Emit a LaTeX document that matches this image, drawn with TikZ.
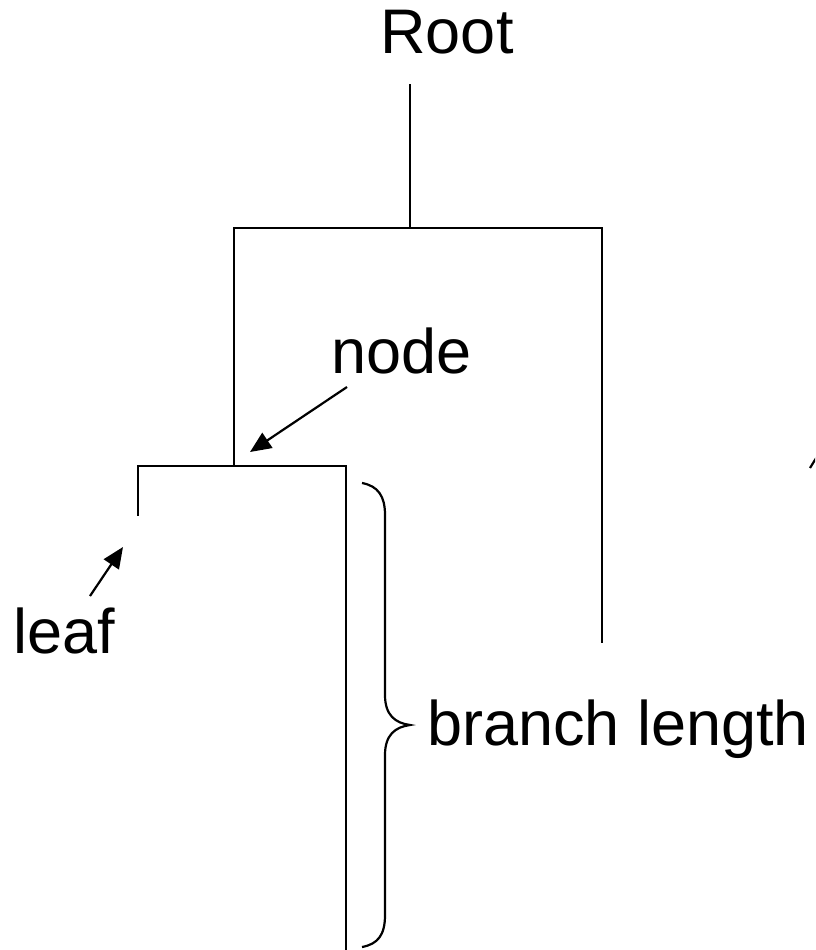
\documentclass[tikz,border=0pt]{standalone}
\usepackage{fontspec}
\setmainfont{Liberation Sans}
\usetikzlibrary{arrows.meta}
\begin{document}
\begin{tikzpicture}[x=1pt,y=-1pt,
  tree/.style={line width=2.6pt,line cap=rect},
  lbl/.style={inner sep=0pt,font=\fontsize{63}{72}\selectfont},
  ptr/.style={line width=2.2pt,-{Triangle[length=21pt,width=18pt]}},
  brc/.style={line width=2.2pt}]
\useasboundingbox (0,0) rectangle (815,950);
\clip (0,0) rectangle (815,950);
% labels
\node[lbl,anchor=base] (root) at (447,54) {Root};
\node[lbl,anchor=base west] (nodelbl) at (331,373) {node};
\node[lbl,anchor=base west] (leaflbl) at (13,653) {leaf};
\node[lbl,anchor=base west] (blen) at (427,745) {branch length};
% tree coordinates
\coordinate (rtop) at (410,85);
\coordinate (rj) at (410,228);
\coordinate (jl) at (234,228);
\coordinate (jr) at (602,228);
\coordinate (rb) at (602,642);
\coordinate (n1) at (234,466);
\coordinate (n1l) at (138,466);
\coordinate (n1r) at (346,466);
\coordinate (leafend) at (138,515);
\coordinate (rbot) at (346,950);
\draw[tree] (rtop) -- (rj);
\draw[tree] (jl) -- (jr);
\draw[tree] (jl) -- (n1);
\draw[tree] (jr) -- (rb);
\draw[tree] (n1l) -- (n1r);
\draw[tree] (n1l) -- (leafend);
\draw[tree] (n1r) -- (rbot);
% pointers
\coordinate (nodetail) at (347,387);
\coordinate (nodetip) at (250,452);
\coordinate (leaftail) at (90,596);
\coordinate (leaftip) at (123,547);
\draw[ptr] (nodetail) -- (nodetip);
\draw[ptr] (leaftail) -- (leaftip);
\coordinate (cuta) at (810,468);
\coordinate (cutb) at (818,455);
\draw[line width=2.2pt] (cuta) -- (cutb);
% brace
\draw[brc] (362,483) .. controls (378,486) and (385,496) .. (385,515) -- (385,695)
  .. controls (385,715) and (395,723) .. (410,725)
  .. controls (395,727) and (385,735) .. (385,755) -- (385,915)
  .. controls (385,935) and (378,944) .. (362,947);
\end{tikzpicture}
\end{document}
